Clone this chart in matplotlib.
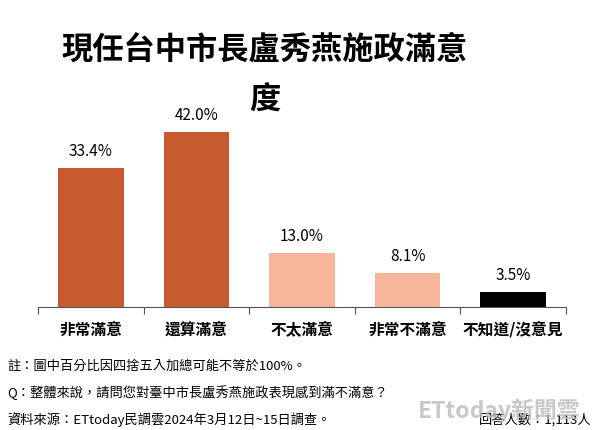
import matplotlib
matplotlib.use('Agg')
import matplotlib.pyplot as plt

plt.rcParams['font.family'] = ['Noto Sans CJK TC', 'DejaVu Sans']

# data
categories = ['非常滿意', '還算滿意', '不太滿意', '非常不滿意', '不知道/沒意見']
values = [33.4, 42.0, 13.0, 8.1, 3.5]
colors = ['#C85A30', '#C85A30', '#F7B59C', '#F7B59C', '#000000']
title = '現任台中市長盧秀燕施政滿意\n度'
notes = ['註：圖中百分比因四捨五入加總可能不等於100%。',
         'Q：整體來說，請問您對臺中市長盧秀燕施政表現感到滿不滿意？',
         '資料來源：ETtoday民調雲2024年3月12日~15日調查。']
sample_note = '回答人數：1,113人'

W, H = 600, 431
fig = plt.figure(figsize=(W / 100, H / 100), dpi=100)

# axes: x 38..566 px, baseline at y=308, 4.17 px per %
ymax = 45
left, right, base = 38, 566, 308
ax = fig.add_axes([left / W, 1 - base / H, (right - left) / W, ymax * 4.17 / H])

x = range(len(categories))
ax.bar(x, values, width=0.62, color=colors)
for i, v in enumerate(values):
    ax.text(i, v + 2.2, f'{v:.1f}%', ha='center', va='bottom', fontsize=11)

ax.set_xlim(-0.5, len(categories) - 0.5)
ax.set_ylim(0, ymax)
for s in ['top', 'right', 'left']:
    ax.spines[s].set_visible(False)
ax.spines['bottom'].set_color('#555555')
ax.set_yticks([])
ax.set_xticks([i - 0.5 for i in range(len(categories) + 1)])
ax.set_xticklabels([])
ax.tick_params(axis='x', direction='out', length=5, color='#555555')
for i, c in enumerate(categories):
    ax.text(i, -3.2, c, ha='center', va='top', fontsize=11.3, fontweight='bold')

fig.text(265 / W, 1 - 34 / H, title, ha='center', va='top', fontsize=22.5,
         fontweight='heavy', linespacing=1.75)

for j, t in enumerate(notes):
    fig.text(7 / W, 1 - (366 + 27 * j) / H, t, ha='left', va='center', fontsize=9.5)
fig.text(592 / W, 1 - 420 / H, sample_note, ha='right', va='center', fontsize=9.5)
fig.text(418 / W, 1 - 411 / H, 'ETtoday新聞雲', ha='left', va='center', fontsize=16.5,
         fontweight='bold', color='#BBBBBB', alpha=0.8)

fig.savefig('out.png', dpi=100)
